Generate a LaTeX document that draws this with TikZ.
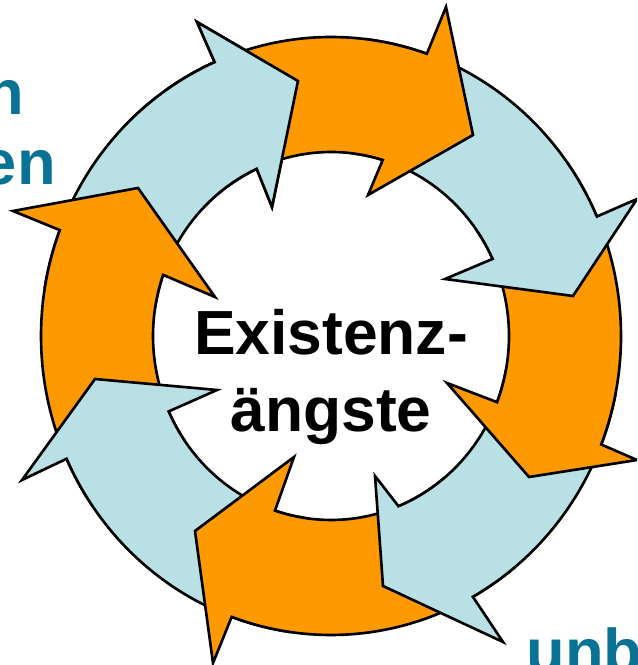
\documentclass[tikz,border=0pt]{standalone}
\usepackage{fontspec}
\newfontfamily\labelfont{Liberation Sans}
\definecolor{segblue}{RGB}{185,224,228}
\definecolor{segorange}{RGB}{255,153,0}
\definecolor{sideteal}{RGB}{10,114,148}
\newcommand*{\RingArrow}[7]{% #1 = colour, #2 = tail angle, #3 = outer notch angle,
  % #4 = outer barb, #5 = tip, #6 = inner barb, #7 = inner notch angle
  \draw[ringseg, fill=#1] ({290*cos(#2)},{299*sin(#2)})
    arc[start angle=#2, end angle=#3, x radius=290, y radius=299]
    -- #4 -- #5 -- #6 -- ({178*cos(#7)},{184*sin(#7)})
    arc[start angle=#7, end angle=#2, x radius=178, y radius=184] -- cycle;
}
\tikzset{
  ringseg/.style={draw=black, line width=1.5pt},
  coretext/.style={font=\labelfont\bfseries\fontsize{35.5}{43.7}\selectfont, align=center, inner sep=0pt},
  sidetext/.style={font=\labelfont\bfseries\fontsize{36}{43}\selectfont, text=sideteal, inner sep=0pt}
}

\begin{document}
\begin{tikzpicture}[x=0.02cm, y=0.02cm]
  \clip (0,0) rectangle (637,665);
  \coordinate (hub) at (331,329);
  \begin{scope}[shift={(hub)}]
    % drawn against the clock, so every head lies on the next tail
    \RingArrow{segblue}{170.6}{113.66}{(-134,314)}{(-33,255)}{(-59,129)}{114.68}
    \RingArrow{segorange}{214.24}{159.26}{(-318,125)}{(-193,148)}{(-116,39)}{160.6}
    \RingArrow{segblue}{-98.35}{-155.76}{(-309,-144)}{(-236,-43)}{(-114,-54)}{-155.79}
    \RingArrow{segorange}{-50.7}{-110.03}{(-118,-327)}{(-136,-195)}{(-37,-121)}{-108.35}
    \RingArrow{segblue}{-11}{-60.71}{(172,-306)}{(52,-250)}{(44,-140)}{-67.71}
    \RingArrow{segorange}{35}{-21.28}{(306,-124)}{(198,-141)}{(116,-47)}{-21.09}
    \RingArrow{segblue}{83}{23.55}{(306,137)}{(242,40)}{(114,57)}{24.77}
    \RingArrow{segorange}{124.7}{70.7}{(115,329)}{(142,201)}{(37,141)}{73.1}
    % top left head once more, over the tail of the top arrow
    \begin{scope}
      \clip (0,0) -- (80:460) -- (108:480) -- (135:460) -- cycle;
      \RingArrow{segblue}{170.6}{113.66}{(-134,314)}{(-33,255)}{(-59,129)}{114.68}
    \end{scope}
  \end{scope}
  \node[coretext] (core) at (331,288) {Existenz-\\ängste};
  \node[sidetext, anchor=base east] (topcut) at (24,550) {n};
  \node[sidetext, anchor=base east] (midcut) at (56,480) {en};
  \node[sidetext, anchor=base west] (botcut) at (526,-9) {unb};
\end{tikzpicture}
\end{document}
